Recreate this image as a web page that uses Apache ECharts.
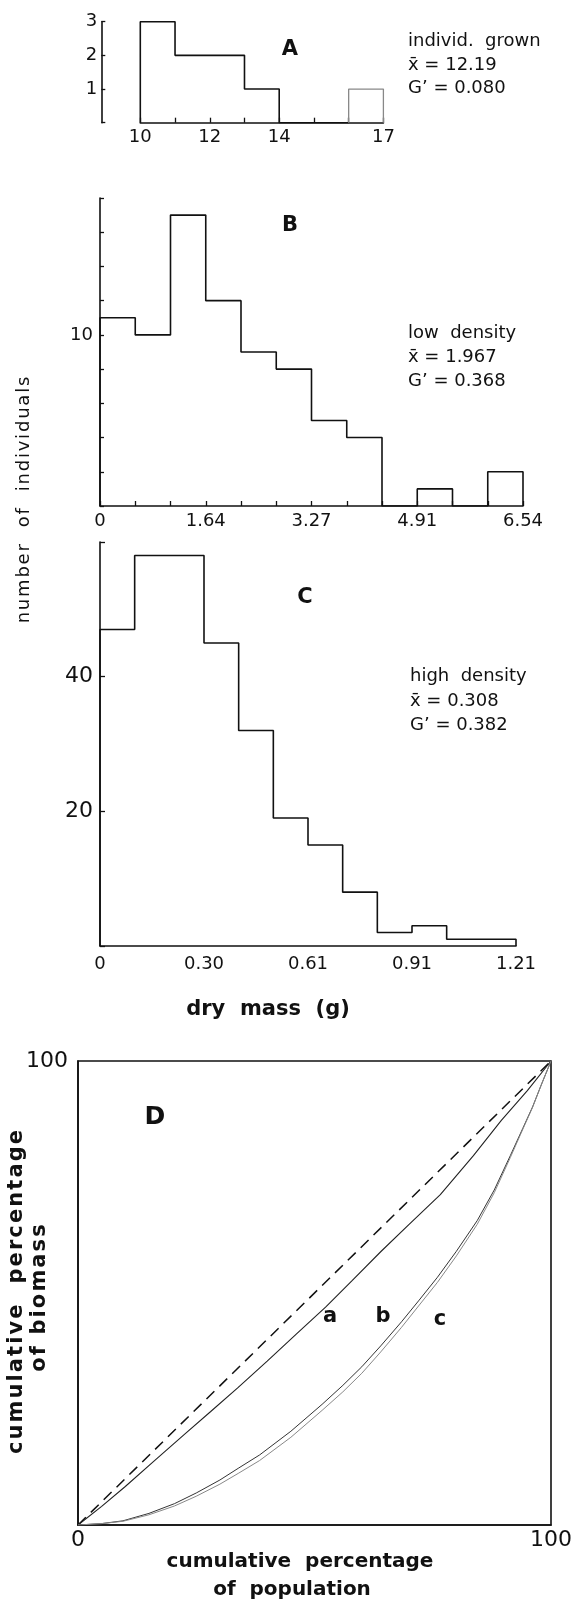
<!DOCTYPE html>
<html>
<head>
<meta charset="utf-8">
<script src="https://cdn.jsdelivr.net/npm/echarts@6/dist/echarts.min.js"></script>
<style>
  html, body { margin: 0; padding: 0; background: #fff; }
  #chart { width: 579px; height: 1610px; }
</style>
</head>
<body>
<div id="chart"></div>
<script>
// Panel A: individually grown plants, dry mass classes 10..17 g (bin width 1)
const binStartA = 10;
const binWidthA = 1;
const countsA = [3, 2, 2, 1, 0, 0, 1];
const tickValuesA = [10, 12, 14, 17];

// Panel B: low density, 12 classes from 0 to 6.54 g
const countsB = [11, 10, 17, 12, 9, 8, 5, 4, 0, 1, 0, 2];
const tickLabelsB = ['0', '1.64', '3.27', '4.91', '6.54'];

// Panel C: high density, 12 classes from 0 to 1.21 g
const countsC = [47, 58, 58, 45, 32, 19, 15, 8, 2, 3, 1, 1];
const tickLabelsC = ['0', '0.30', '0.61', '0.91', '1.21'];

// Panel D: Lorenz curves (cumulative % of population vs cumulative % of biomass)
const equalityPop = [0, 100];
const equalityBio = [0, 100];
const popA = [0, 5, 10, 16, 22.8, 28, 33.7, 40, 46.2, 52.4, 58, 64.1, 70, 76.6, 83.6, 89.5, 95, 100];
const bioA = [0, 4.0, 8.3, 13.7, 19.8, 24.4, 29.5, 35.3, 41.2, 47.0, 52.7, 59.0, 64.8, 71.2, 79.6, 87.2, 93.6, 100];
const popB = [0, 5, 9.5, 15, 20.4, 25, 30, 34, 38.4, 45, 51.6, 56, 60, 64, 68.4, 72, 76, 80, 84.4, 88, 91.4, 94, 96.1, 98, 100];
const bioB = [0, 0.3, 0.9, 2.5, 4.6, 6.9, 9.7, 12.3, 15.1, 20.2, 26.0, 30.1, 34.1, 38.6, 43.8, 48.3, 53.4, 59.0, 65.6, 72.2, 79.6, 85.4, 90.1, 95.0, 100];
const popC = [0, 5, 9.5, 15, 20.4, 25, 30, 34, 38.4, 45, 51.6, 56, 60, 64, 68.4, 72, 76, 80, 84.4, 88, 91.4, 94, 96.1, 98, 100];
const bioC = [0, 0.3, 0.8, 2.2, 4.1, 6.2, 8.8, 11.2, 13.9, 18.9, 24.7, 28.7, 32.7, 37.3, 42.6, 47.2, 52.3, 58.0, 64.8, 71.6, 79.2, 85.2, 90.0, 95.0, 100];

const FONT = 'DejaVu Sans';
const INK = '#111';
const HAIR = '\u200A';

// Step outline of a histogram: up the left edge, across each bin top, down the right edge
function outline(start, width, counts, from, to) {
  const pts = [[start + from * width, 0]];
  for (let i = from; i < to; i++) {
    pts.push([start + i * width, counts[i]]);
    pts.push([start + (i + 1) * width, counts[i]]);
  }
  pts.push([start + to * width, 0]);
  return pts;
}
const zip = (xs, ys) => xs.map((x, i) => [x, ys[i]]);
// widen the tracking of a title
const tracked = s => s.split('').join(HAIR);

const axisLine = { show: true, onZero: false, lineStyle: { color: INK, width: 1.6 } };
const tick = (len) => ({ show: true, inside: true, length: len, lineStyle: { color: INK, width: 1.3 } });
const label = (size, margin, fmt) => ({
  show: true, fontFamily: FONT, fontSize: size, color: INK, margin: margin,
  showMinLabel: true, showMaxLabel: true, formatter: fmt
});
const base = { type: 'value', splitLine: { show: false }, axisLine: axisLine };

const chart = echarts.init(document.getElementById('chart'), null, { renderer: 'canvas' });

const histLine = (xi, data, color, width) => ({
  type: 'line', xAxisIndex: xi, yAxisIndex: xi, data: data,
  showSymbol: false, symbol: 'none', silent: true,
  lineStyle: { color: color, width: width }
});
const curve = (data, color, width, type) => ({
  type: 'line', xAxisIndex: 3, yAxisIndex: 3, data: data,
  showSymbol: false, symbol: 'none', silent: true, smooth: false,
  lineStyle: { color: color, width: width, type: type || 'solid' }
});

const txt = (text, x, y, size, opts) => Object.assign({
  type: 'text', x: x, y: y, silent: true,
  style: {
    text: text, fill: INK,
    font: ((opts && opts.bold) ? 'bold ' : '') + size + 'px "' + FONT + '"',
    textAlign: (opts && opts.align) || 'center', textVerticalAlign: 'middle',
    align: (opts && opts.align) || 'center', verticalAlign: 'middle'
  }
}, (opts && opts.rotation) ? { rotation: opts.rotation } : {});

chart.setOption({
  animation: false,
  backgroundColor: '#fff',
  grid: [
    { left: 140.3, width: 243.1, top: 21.7, height: 101 },
    { left: 100, width: 423, top: 198, height: 308 },
    { left: 100, width: 416, top: 542, height: 404 },
    { left: 78, width: 473, top: 1061, height: 464,
      show: true, borderColor: INK, borderWidth: 1.6, backgroundColor: 'transparent' }
  ],
  xAxis: [
    Object.assign({}, base, {
      gridIndex: 0, min: 10, max: 17, interval: 1, axisTick: tick(5),
      axisLabel: label(18, 6, v => tickValuesA.indexOf(v) >= 0 ? String(v) : '')
    }),
    Object.assign({}, base, {
      gridIndex: 1, min: 0, max: 12, interval: 1, axisTick: tick(5),
      axisLabel: label(18, 6, v => v % 3 === 0 ? tickLabelsB[v / 3] : '')
    }),
    Object.assign({}, base, {
      gridIndex: 2, min: 0, max: 12, interval: 1, axisTick: { show: false },
      axisLabel: label(18, 9, v => v % 3 === 0 ? tickLabelsC[v / 3] : '')
    }),
    Object.assign({}, base, {
      gridIndex: 3, min: 0, max: 100, interval: 100, axisTick: { show: false },
      axisLabel: label(22, 4, v => String(v))
    })
  ],
  yAxis: [
    Object.assign({}, base, {
      gridIndex: 0, min: 0, max: 3, interval: 1, offset: 39, axisTick: tick(4),
      axisLabel: label(18, 4, v => v === 0 ? '' : String(v))
    }),
    Object.assign({}, base, {
      gridIndex: 1, min: 0, max: 18, interval: 2, axisTick: tick(4),
      axisLabel: label(18, 7, v => v === 10 ? '10' : '')
    }),
    Object.assign({}, base, {
      gridIndex: 2, min: 0, max: 60, interval: 20, axisTick: tick(5),
      axisLabel: label(22, 7, v => (v === 20 || v === 40) ? String(v) : '')
    }),
    Object.assign({}, base, {
      gridIndex: 3, min: 0, max: 100, interval: 100, axisTick: { show: false },
      axisLabel: label(22, 10, v => v === 100 ? '100' : '')
    })
  ],
  series: [
    histLine(0, outline(binStartA, binWidthA, countsA, 0, 6), INK, 1.6),
    histLine(0, outline(binStartA, binWidthA, countsA, 6, 7), '#888', 1.3),
    histLine(1, outline(0, 1, countsB, 0, countsB.length), INK, 1.6),
    histLine(2, outline(0, 1, countsC, 0, countsC.length), INK, 1.6),
    curve(zip(equalityPop, equalityBio), INK, 1.5, [11, 7]),
    curve(zip(popA, bioA), '#222', 1.1),
    curve(zip(popB, bioB), '#333', 1.0),
    curve(zip(popC, bioC), '#888', 1.0)
  ],
  graphic: [
    txt('A', 290, 50, 21, { bold: true }),
    txt('individ.  grown', 408, 41.7, 18, { align: 'left' }),
    txt('x\u0304 = 12.19', 408, 65, 18, { align: 'left' }),
    txt('G\u2019 = 0.080', 408, 88.3, 18, { align: 'left' }),

    txt('B', 290, 226, 21, { bold: true }),
    txt('low  density', 408, 333.3, 18, { align: 'left' }),
    txt('x\u0304 = 1.967', 408, 357.3, 18, { align: 'left' }),
    txt('G\u2019 = 0.368', 408, 381.7, 18, { align: 'left' }),

    txt('C', 305, 598, 21, { bold: true }),
    txt('high  density', 410, 676.7, 18, { align: 'left' }),
    txt('x\u0304 = 0.308', 410, 701.7, 18, { align: 'left' }),
    txt('G\u2019 = 0.382', 410, 725, 18, { align: 'left' }),

    txt('dry  mass  (g)', 268, 1010, 21, { bold: true }),
    txt(tracked('number  of  individuals'), 24, 500, 18, { rotation: Math.PI / 2 }),

    txt('D', 155, 1117, 25, { bold: true }),
    txt('a', 330, 1317, 21, { bold: true }),
    txt('b', 383, 1317, 21, { bold: true }),
    txt('c', 440, 1320, 21, { bold: true }),
    txt('cumulative  percentage', 300, 1562, 20, { bold: true }),
    txt('of  population', 292, 1590, 20, { bold: true }),
    txt(tracked('cumulative  percentage'), 17, 1292, 21, { bold: true, rotation: Math.PI / 2 }),
    txt(tracked('of biomass'), 40, 1298, 21, { bold: true, rotation: Math.PI / 2 })
  ]
});
</script>
</body>
</html>
